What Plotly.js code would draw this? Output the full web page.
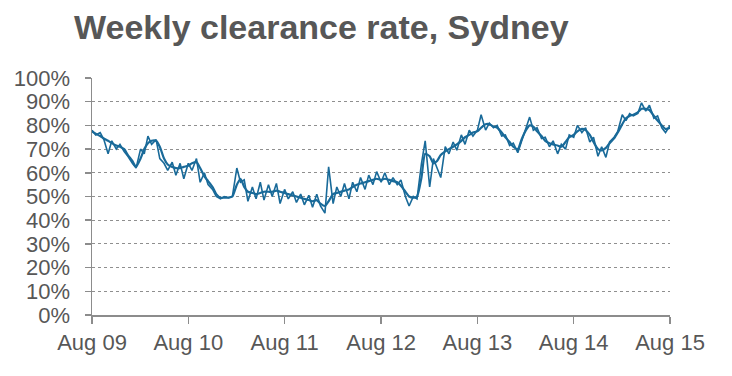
<!DOCTYPE html>
<html>
<head>
<meta charset="utf-8">
<script src="https://cdn.plot.ly/plotly-3.0.1.min.js"></script>
<style>html,body{margin:0;padding:0;background:#fff;}#chart{width:732px;height:376px;}</style>
</head>
<body>
<div id="chart"></div>
<script>
const dates = [
"2009-08-01","2009-08-15","2009-09-01","2009-09-15","2009-10-01","2009-10-15","2009-11-01","2009-11-15","2009-12-01","2009-12-15",
"2010-01-01","2010-01-15","2010-02-01","2010-02-15","2010-03-01","2010-03-15","2010-04-01","2010-04-15","2010-05-01","2010-05-15","2010-06-01","2010-06-15","2010-07-01","2010-07-15",
"2010-08-01","2010-08-15","2010-09-01","2010-09-15","2010-10-01","2010-10-15","2010-11-01","2010-11-15","2010-12-01","2010-12-15",
"2011-01-01","2011-01-15","2011-02-01","2011-02-15","2011-03-01","2011-03-15","2011-04-01","2011-04-15","2011-05-01","2011-05-15","2011-06-01","2011-06-15","2011-07-01","2011-07-15",
"2011-08-01","2011-08-15","2011-09-01","2011-09-15","2011-10-01","2011-10-15","2011-11-01","2011-11-15","2011-12-01","2011-12-15",
"2012-01-01","2012-01-15","2012-02-01","2012-02-15","2012-03-01","2012-03-15","2012-04-01","2012-04-15","2012-05-01","2012-05-15","2012-06-01","2012-06-15","2012-07-01","2012-07-15",
"2012-08-01","2012-08-15","2012-09-01","2012-09-15","2012-10-01","2012-10-15","2012-11-01","2012-11-15","2012-12-01","2012-12-15",
"2013-01-01","2013-01-15","2013-02-01","2013-02-15","2013-03-01","2013-03-15","2013-04-01","2013-04-15","2013-05-01","2013-05-15","2013-06-01","2013-06-15","2013-07-01","2013-07-15",
"2013-08-01","2013-08-15","2013-09-01","2013-09-15","2013-10-01","2013-10-15","2013-11-01","2013-11-15","2013-12-01","2013-12-15",
"2014-01-01","2014-01-15","2014-02-01","2014-02-15","2014-03-01","2014-03-15","2014-04-01","2014-04-15","2014-05-01","2014-05-15","2014-06-01","2014-06-15","2014-07-01","2014-07-15",
"2014-08-01","2014-08-15","2014-09-01","2014-09-15","2014-10-01","2014-10-15","2014-11-01","2014-11-15","2014-12-01","2014-12-15",
"2015-01-01","2015-01-15","2015-02-01","2015-02-15","2015-03-01","2015-03-15","2015-04-01","2015-04-15","2015-05-01","2015-05-15","2015-06-01","2015-06-15","2015-07-01","2015-07-15",
"2015-08-01"
];

// Weekly clearance rate (%)
const weekly = [
78,76,77,74,68,73.5,70,72,69,67,64,62,70,68,75.5,72,74,66,64,61,64.5,59,64,57.5,
64,61,66,56,60,55,53,50,49,50,49.5,50,62,56,57,48,54,49,56,48.5,55,50,55.5,47,
53,49,52,47.5,51,46.5,50.5,45.5,51,46,43,62.5,47,54,50,55.5,49,56,52,58,53,59,55,60.5,
56,60,55,58,55,57,50,46,50,49,64,73.5,54,66,62,58,71,68,73,69.5,76,72,78,75.5,
78,84.5,78,81,79,80,75.5,76,71.5,72.5,68.5,73,79,83.5,78,79,74.5,75,71,73.5,68,72,70,76,
75,80,77,79,73,75,67,71,66.5,73,75,77.5,84.5,82,85,84,85,89.5,86,88.5,83,84,79,77,
80
];

// Smoothed trend (%)
const trend = [
77.5,76.5,75.5,74.5,73.5,72.5,71.5,71,70,67.5,65,62.5,66,70,72.5,73.5,73.5,71,66,63.5,62.5,62,62,62.5,
63,64,64.5,62,58.5,56.5,54,51,49.5,49.5,49.5,50,55,57.5,54,52,51.5,51,51.5,52,52,52,52.5,52,
51.5,51,50.5,50,49.5,49,48.5,48,48.5,47,46,48,51,51.5,52,52.5,53,54,55,55.5,56,56.5,57,57.5,
57,57.5,57,56.5,56,54.5,52,50,49.5,50,58,68,67,64,65,67.5,69,70,71,72,73.5,75,76,77,
77.5,79,80.5,80.5,79.5,79,77,75,73,71,70,74,78,80,79.5,77.5,75.5,73.5,72.5,72,71.5,71,73,75,
76,77.5,78.5,78,76,73,70,69.5,70.5,72.5,74.5,77,80.5,83,84,84.5,85.5,87,87,86.5,84,82,80,78.5,
79
];

const tickDates = ["2009-08-01","2010-08-01","2011-08-01","2012-08-01","2013-08-01","2014-08-01","2015-08-01"];
const tickLabels = ["Aug 09","Aug 10","Aug 11","Aug 12","Aug 13","Aug 14","Aug 15"];
const yTicks = [0,10,20,30,40,50,60,70,80,90,100];
const yLabels = ["0%","10%","20%","30%","40%","50%","60%","70%","80%","90%","100%"];

const lineColor = "#196a99";
const textColor = "#575757";
const fontFam = "Liberation Sans, Arial, sans-serif";

const traces = [
  {x: dates, y: weekly, type: "scatter", mode: "lines", name: "Weekly",
   line: {color: lineColor, width: 1.6}, hoverinfo: "skip"},
  {x: dates, y: trend, type: "scatter", mode: "lines", name: "Trend",
   line: {color: lineColor, width: 2.2, shape: "spline", smoothing: 0.6}, hoverinfo: "skip"}
];

const layout = {
  width: 732, height: 376,
  margin: {l: 92, r: 62, t: 78, b: 61},
  paper_bgcolor: "#fff", plot_bgcolor: "#fff",
  showlegend: false,
  font: {family: fontFam, color: textColor, size: 22},
  title: {text: "<b>Weekly clearance rate, Sydney</b>", x: 74/732, xref: "container", xanchor: "left",
          y: 1 - 27/376, yref: "container", yanchor: "middle",
          font: {family: fontFam, size: 34, color: textColor}},
  xaxis: {
    type: "date", range: ["2009-08-01", "2015-08-01"],
    tickmode: "array", tickvals: tickDates, ticktext: tickLabels,
    showgrid: false, zeroline: false,
    showline: true, linecolor: "#8c8c8c", linewidth: 1.5,
    ticks: "outside", ticklen: 7, tickcolor: "#8c8c8c", tickwidth: 1.5,
    tickfont: {family: fontFam, size: 22, color: textColor}
  },
  yaxis: {
    range: [0, 100], tickmode: "array", tickvals: yTicks, ticktext: yLabels,
    showgrid: true, gridcolor: "#8f8f8f", gridwidth: 1, griddash: "dot",
    zeroline: false,
    showline: true, linecolor: "#8c8c8c", linewidth: 1.5,
    ticks: "outside", ticklen: 6, tickcolor: "#8c8c8c", tickwidth: 1.5,
    ticklabelstandoff: 10,
    tickfont: {family: fontFam, size: 22, color: textColor}
  }
};

Plotly.newPlot("chart", traces, layout, {displayModeBar: false, staticPlot: true});
</script>
</body>
</html>
